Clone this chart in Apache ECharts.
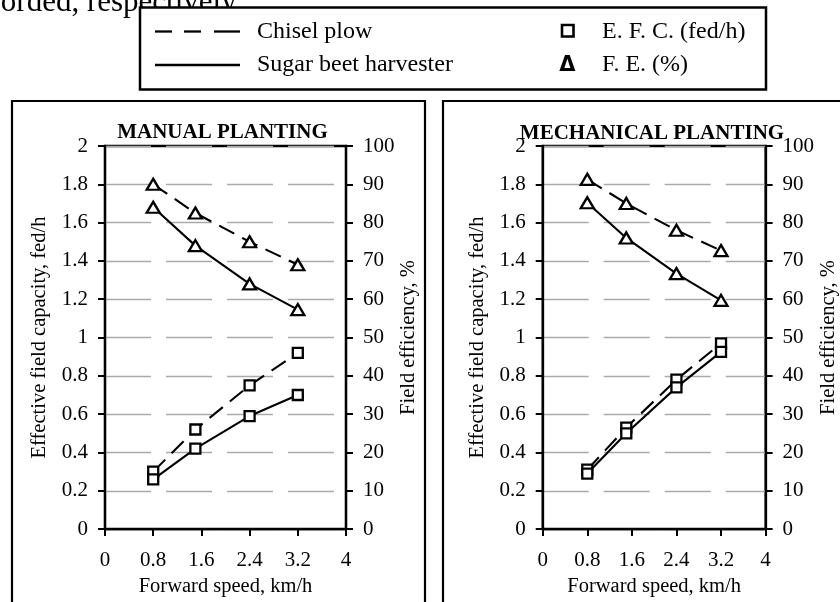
<!DOCTYPE html>
<html><head><meta charset="utf-8">
<script src="https://cdn.jsdelivr.net/npm/echarts@6/dist/echarts.min.js"></script>
<style>html,body{margin:0;padding:0;background:#fff}#c{width:840px;height:602px}</style>
</head><body><div id="c"></div>
<script>
// ---- data ----
const speeds = [0.8, 1.5, 2.4, 3.2];            // forward speed, km/h
const xTicks = [0, 0.8, 1.6, 2.4, 3.2, 4];
const efcTicks = [0, 0.2, 0.4, 0.6, 0.8, 1, 1.2, 1.4, 1.6, 1.8, 2];
const feTicks = [0, 10, 20, 30, 40, 50, 60, 70, 80, 90, 100];

// Manual planting
const manualEfcChisel = [0.30, 0.52, 0.75, 0.92];
const manualEfcHarv   = [0.26, 0.42, 0.59, 0.70];
const manualFeChisel  = [90, 82.5, 75, 69];
const manualFeHarv    = [84, 74, 64, 57.3];
// Mechanical planting
const mechEfcChisel = [0.31, 0.53, 0.78, 0.97];
const mechEfcHarv   = [0.29, 0.50, 0.74, 0.925];
const mechFeChisel  = [91.3, 85, 78, 72.7];
const mechFeHarv    = [85.2, 76, 66.7, 59.7];

const panelTitles = ['MANUAL PLANTING', 'MECHANICAL PLANTING'];
const legendLines = ['Chisel plow', 'Sugar beet harvester'];
const legendMarks = ['E. F. C. (fed/h)', 'F. E. (%)'];

// ---- chart ----
const SERIF = "'Liberation Serif','Times New Roman',serif";
const pts = (xs, ys) => xs.map((x, i) => [x, ys[i]]);
const step = a => a[1] - a[0];

function xAxis(gi, nameGap) {
  return {
    type: 'value', gridIndex: gi, min: xTicks[0], max: xTicks[xTicks.length - 1], interval: step(xTicks),
    name: 'Forward speed, km/h', nameLocation: 'middle', nameGap: nameGap,
    nameTextStyle: { fontFamily: SERIF, fontSize: 20.5, color: '#000' },
    axisLine: { onZero: false, lineStyle: { color: '#000', width: 2.3 } },
    axisTick: { show: true, inside: false, length: 7, lineStyle: { color: '#000', width: 2 } },
    axisLabel: { fontFamily: SERIF, fontSize: 21, color: '#000', margin: 21 },
    splitLine: { show: false }
  };
}
function yLeft(gi) {
  return {
    type: 'value', gridIndex: gi, position: 'left',
    min: efcTicks[0], max: efcTicks[efcTicks.length - 1], interval: step(efcTicks),
    name: 'Effective field capacity, fed/h', nameLocation: 'middle', nameGap: 55, nameRotate: 90,
    nameTextStyle: { fontFamily: SERIF, fontSize: 20.5, color: '#000' },
    axisLine: { show: true, onZero: false, lineStyle: { color: '#000', width: 2.3 } },
    axisTick: { show: true, inside: false, length: 7, lineStyle: { color: '#000', width: 2 } },
    axisLabel: { fontFamily: SERIF, fontSize: 21, color: '#000', margin: 17 },
    splitLine: { show: true, lineStyle: { color: '#aaaaaa', width: 1.3, type: [46, 15] } }
  };
}
function yRight(gi) {
  return {
    type: 'value', gridIndex: gi, position: 'right',
    min: feTicks[0], max: feTicks[feTicks.length - 1], interval: step(feTicks),
    name: 'Field efficiency, %', nameLocation: 'middle', nameGap: 46, nameRotate: 90,
    nameTextStyle: { fontFamily: SERIF, fontSize: 20.5, color: '#000' },
    axisLine: { show: true, onZero: false, lineStyle: { color: '#000', width: 2.3 } },
    axisTick: { show: true, inside: false, length: 7, lineStyle: { color: '#000', width: 2 } },
    axisLabel: { fontFamily: SERIF, fontSize: 21, color: '#000', margin: 17 },
    splitLine: { show: false }
  };
}
function ser(name, xi, yi, data, dashed, symbol) {
  return {
    name: name, type: 'line', xAxisIndex: xi, yAxisIndex: yi, data: data,
    symbol: symbol, symbolSize: symbol === 'rect' ? 10 : [13, 11],
    showSymbol: true, animation: false, silent: true,
    lineStyle: { color: '#000', width: 2.1, type: dashed ? [17, 9] : 'solid' },
    itemStyle: { color: '#fff', borderColor: '#000', borderWidth: 2.3 },
    z: dashed ? 3 : 4
  };
}

const chart = echarts.init(document.getElementById('c'), null, { renderer: 'canvas' });
const legendTextStyle = { fontFamily: SERIF, fontSize: 24, fill: '#000', verticalAlign: 'middle' };
chart.setOption({
  backgroundColor: '#fff',
  animation: false,
  title: [
    { text: panelTitles[0], left: 217.5, top: 117, textAlign: 'center',
      textStyle: { fontFamily: SERIF, fontSize: 21, fontWeight: 'bold', color: '#000' } },
    { text: panelTitles[1], left: 647, top: 118, textAlign: 'center',
      textStyle: { fontFamily: SERIF, fontSize: 21, fontWeight: 'bold', color: '#000' } }
  ],
  grid: [
    { left: 105, right: 494, top: 146, bottom: 69.3, show: true, borderColor: '#000', borderWidth: 2.3, backgroundColor: 'transparent' },
    { left: 542.7, right: 67.3, top: 146, bottom: 71.7, show: true, borderColor: '#000', borderWidth: 2.3, backgroundColor: 'transparent' }
  ],
  xAxis: [xAxis(0, 43), xAxis(1, 46)],
  yAxis: [yLeft(0), yRight(0), yLeft(1), Object.assign(yRight(1), { nameGap: 47 })],
  series: [
    ser('Chisel plow E.F.C.', 0, 0, pts(speeds, manualEfcChisel), true, 'rect'),
    ser('Sugar beet harvester E.F.C.', 0, 0, pts(speeds, manualEfcHarv), false, 'rect'),
    ser('Chisel plow F.E.', 0, 1, pts(speeds, manualFeChisel), true, 'triangle'),
    ser('Sugar beet harvester F.E.', 0, 1, pts(speeds, manualFeHarv), false, 'triangle'),
    ser('Chisel plow E.F.C.', 1, 2, pts(speeds, mechEfcChisel), true, 'rect'),
    ser('Sugar beet harvester E.F.C.', 1, 2, pts(speeds, mechEfcHarv), false, 'rect'),
    ser('Chisel plow F.E.', 1, 3, pts(speeds, mechFeChisel), true, 'triangle'),
    ser('Sugar beet harvester F.E.', 1, 3, pts(speeds, mechFeHarv), false, 'triangle')
  ],
  graphic: [
    // clipped running text of the page above
    { type: 'text', left: -37, top: -13, silent: true,
      style: { text: 'recorded, respectively.', fontFamily: SERIF, fontSize: 31, fill: '#000' } },
    // panel frames
    { type: 'rect', silent: true, z: 0, shape: { x: 12, y: 101, width: 413, height: 520 },
      style: { fill: 'none', stroke: '#000', lineWidth: 2.2 } },
    { type: 'rect', silent: true, z: 0, shape: { x: 443, y: 101, width: 420, height: 520 },
      style: { fill: 'none', stroke: '#000', lineWidth: 2.2 } },
    // legend box
    { type: 'rect', silent: true, z: 10, shape: { x: 140, y: 7.5, width: 626, height: 82 },
      style: { fill: '#fff', stroke: '#000', lineWidth: 2.5 } },
    { type: 'line', silent: true, z: 11, shape: { x1: 155, y1: 31.5, x2: 172, y2: 31.5 }, style: { stroke: '#000', lineWidth: 2.3 } },
    { type: 'line', silent: true, z: 11, shape: { x1: 184, y1: 31.5, x2: 201, y2: 31.5 }, style: { stroke: '#000', lineWidth: 2.3 } },
    { type: 'line', silent: true, z: 11, shape: { x1: 214, y1: 31.5, x2: 240, y2: 31.5 }, style: { stroke: '#000', lineWidth: 2.3 } },
    { type: 'line', silent: true, z: 11, shape: { x1: 155, y1: 65, x2: 240, y2: 65 }, style: { stroke: '#000', lineWidth: 2.3 } },
    { type: 'text', silent: true, z: 11, x: 257, y: 32, style: Object.assign({ text: legendLines[0] }, legendTextStyle) },
    { type: 'text', silent: true, z: 11, x: 257, y: 65, style: Object.assign({ text: legendLines[1] }, legendTextStyle) },
    { type: 'rect', silent: true, z: 11, shape: { x: 562, y: 25, width: 11.5, height: 11.5 },
      style: { fill: '#fff', stroke: '#000', lineWidth: 2.6 } },
    { type: 'text', silent: true, z: 11, x: 567.5, y: 66, style: { text: 'Δ', fontFamily: "'DejaVu Sans',sans-serif", fontWeight: 'bold', fontSize: 21, fill: '#000', align: 'center', verticalAlign: 'middle' } },
    { type: 'text', silent: true, z: 11, x: 602, y: 32, style: Object.assign({ text: legendMarks[0] }, legendTextStyle) },
    { type: 'text', silent: true, z: 11, x: 602, y: 65, style: Object.assign({ text: legendMarks[1] }, legendTextStyle) }
  ]
});
</script>
</body></html>
